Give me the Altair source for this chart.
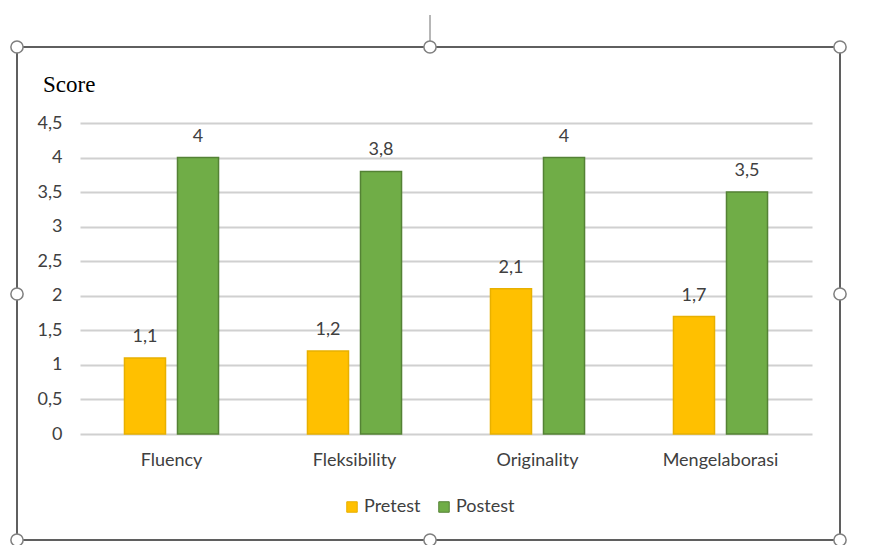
import altair as alt
import pandas as pd

categories = ["Fluency", "Fleksibility", "Originality", "Mengelaborasi"]
pretest = [1.1, 1.2, 2.1, 1.7]
postest = [4.0, 3.8, 4.0, 3.5]
series = ["Pretest", "Postest"]
colors = ["#FFC000", "#70AD47"]
strokes = ["#E8B000", "#548235"]
y_ticks = [0, 0.5, 1, 1.5, 2, 2.5, 3, 3.5, 4, 4.5]

rows = []
for c, a, b in zip(categories, pretest, postest):
    rows.append({"Kategori": c, "Series": "Pretest", "Nilai": a})
    rows.append({"Kategori": c, "Series": "Postest", "Nilai": b})
df = pd.DataFrame(rows)

FONT = "Lato"
FS = 18
TXT = "#404040"
W, H = 732, 311

x = alt.X("Kategori:N", sort=categories, title=None,
          scale=alt.Scale(paddingInner=0.486, paddingOuter=0.243),
          axis=alt.Axis(labelAngle=0, labelFont=FONT, labelFontSize=FS, labelColor=TXT,
                        labelPadding=17, ticks=False, domain=False, grid=False))
xo = alt.XOffset("Series:N", sort=series, scale=alt.Scale(paddingInner=0.226, paddingOuter=0))
y = alt.Y("Nilai:Q", title=None,
          scale=alt.Scale(domain=[0, 4.5], nice=False),
          axis=alt.Axis(values=y_ticks, labelOverlap=False,
                        labelExpr="replace(toString(datum.value), '.', ',')",
                        labelFont=FONT, labelFontSize=FS, labelColor=TXT,
                        labelPadding=18, ticks=False, domain=False,
                        gridColor="#D0D0D0", gridWidth=2))

bars = alt.Chart(df).mark_bar(strokeWidth=1.5).encode(
    x=x, xOffset=xo, y=y,
    color=alt.Color("Series:N", sort=series, scale=alt.Scale(domain=series, range=colors),
                    legend=alt.Legend(title=None, orient="none", direction="horizontal",
                                      legendX=263, legendY=375, symbolType="square",
                                      symbolSize=110, symbolStrokeWidth=1,
                                      labelFont=FONT, labelFontSize=FS, labelColor=TXT,
                                      columnPadding=14, labelOffset=3)),
    stroke=alt.Stroke("Series:N", sort=series, scale=alt.Scale(domain=series, range=strokes), legend=None),
)

labels = alt.Chart(df).transform_calculate(
    lab="replace(toString(datum.Nilai), '.', ',')"
).mark_text(baseline="bottom", dy=-12, font=FONT, fontSize=FS, color=TXT).encode(
    x=x, xOffset=xo, y=y, text="lab:N")

one = alt.Data(values=[{"a": 1}])
title = alt.Chart(one).mark_text(font="Liberation Serif", fontSize=23, color="#000000",
                                 align="left", baseline="middle").encode(
    x=alt.value(-37), y=alt.value(-38), text=alt.value("Score"))

border = alt.Chart(one).mark_rect(fill=None, stroke="#5F5F5F", strokeWidth=2).encode(
    x=alt.value(-63), x2=alt.value(760), y=alt.value(-76), y2=alt.value(417))

rot = alt.Chart(one).mark_rule(color="#6E6E6E", strokeWidth=1).encode(
    x=alt.value(350), y=alt.value(-108), y2=alt.value(-82))

handles = []
for hx in [-63, 350, 760]:
    for hy in [-76, 171, 417]:
        if hx == 350 and hy == 171:
            continue
        handles.append(alt.Chart(one).mark_point(shape="circle", size=150, filled=True,
                                                 fill="white", stroke="#7F7F7F", strokeWidth=1.5,
                                                 opacity=1).encode(
            x=alt.value(hx), y=alt.value(hy)))

chart = alt.layer(bars, labels, title, border, rot, *handles).properties(
    width=W, height=H,
    view=alt.ViewBackground(stroke="transparent", strokeWidth=0),
    autosize=alt.AutoSizeParams(type="none"),
    padding={"left": 80, "top": 123, "right": 59, "bottom": 111},
).configure_view(stroke="transparent", strokeWidth=0).configure(background="white")

chart.save("out.html", embed_options={"renderer": "svg", "actions": False})
